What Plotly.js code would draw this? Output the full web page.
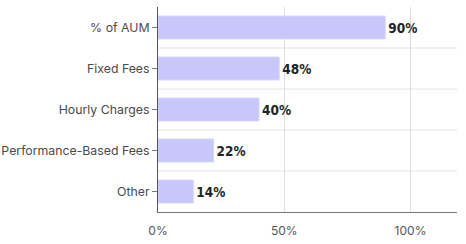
<!DOCTYPE html>
<html><head><meta charset="utf-8">
<script src="https://cdn.plot.ly/plotly-3.0.1.min.js"></script>
<style>html,body{margin:0;padding:0;background:#fff}#chart{width:466px;height:244px}</style>
</head><body><div id="chart"></div>
<script>
const categories = ["% of AUM", "Fixed Fees", "Hourly Charges", "Performance-Based Fees", "Other"];
const values = [90, 48, 40, 22, 14];
const xTickVals = [0, 50, 100];
const xTickText = ["0%", "50%", "100%"];

const trace = {
  type: 'bar', orientation: 'h',
  x: values, y: categories,
  marker: {color: '#c7c7fb', line: {color: '#d6d6fc', width: 1}},
  text: values.map(v => v + '%'),
  textposition: 'outside',
  textfont: {family: 'DejaVu Sans Condensed, sans-serif', size: 13.5, color: '#1d2626', weight: 'bold'},
  cliponaxis: false,
  hoverinfo: 'skip'
};

const seps = [];
for (let i = 0; i < categories.length - 1; i++) {
  seps.push({type: 'line', xref: 'paper', yref: 'y', x0: 0, x1: 1, y0: i + 0.5, y1: i + 0.5,
    line: {color: '#e2e2e2', width: 1}, layer: 'below'});
}

const layout = {
  width: 466, height: 244,
  margin: {l: 158, r: 9, t: 7, b: 32},
  paper_bgcolor: '#fff', plot_bgcolor: '#fff',
  showlegend: false,
  bargap: 0.44,
  font: {family: 'Inter, Roboto, sans-serif', size: 12, color: '#4a4a4a'},
  xaxis: {
    range: [0, 118.4], tickvals: xTickVals, ticktext: xTickText,
    showgrid: true, gridcolor: '#dedede', gridwidth: 1,
    zeroline: false, showline: true, linecolor: '#777', linewidth: 1,
    ticks: '', ticklabelstandoff: 8, tickfont: {size: 12, color: '#555'}, fixedrange: true
  },
  yaxis: {
    type: 'category', categoryorder: 'array', categoryarray: categories,
    autorange: 'reversed', showgrid: false, zeroline: false,
    showline: true, linecolor: '#555', linewidth: 1,
    ticks: 'outside', ticklen: 5, tickcolor: '#777', tickwidth: 1,
    tickfont: {size: 12.3, color: '#4a4a4a'}, fixedrange: true
  },
  shapes: seps
};

Plotly.newPlot('chart', [trace], layout, {displayModeBar: false, staticPlot: true});
</script>
</body></html>
